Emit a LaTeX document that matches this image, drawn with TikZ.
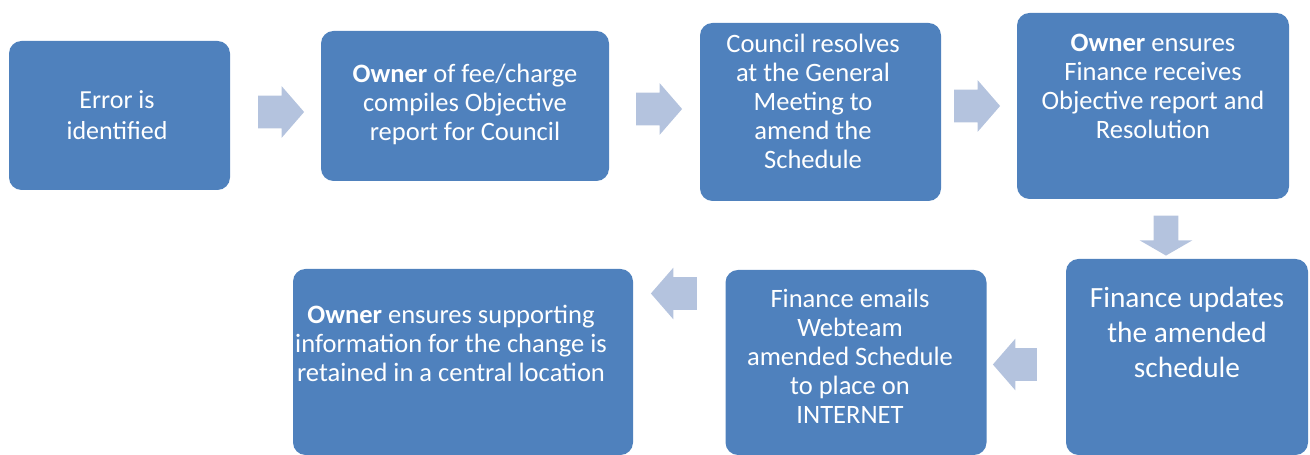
\documentclass[tikz,border=0pt]{standalone}
\usepackage{fontspec}
\setmainfont{Carlito}
\usetikzlibrary{shapes.arrows}
\definecolor{boxblue}{RGB}{79,129,189}
\definecolor{arrowblue}{RGB}{180,195,222}

\begin{document}
\begin{tikzpicture}[
	box/.style={fill=boxblue,rounded corners=0.25cm,inner sep=0pt},
	boxtext/.style={text=white,align=center,inner sep=0pt,font=\fontsize{15.1}{16.5}\selectfont},
	blockarrow/.style={single arrow,fill=arrowblue,inner xsep=0pt,inner ysep=0.32cm,single arrow head extend=0.19cm,single arrow tip angle=98,minimum height=0.92cm}
]
	\useasboundingbox (0,0) rectangle (26.2,9.1);

	% top row
	\node (error) at (2.39,6.79) [box,minimum width=4.42cm,minimum height=2.98cm] {};
	\node (report) at (9.30,6.98) [box,minimum width=5.76cm,minimum height=3.00cm] {};
	\node (resolve) at (16.41,6.86) [box,minimum width=4.82cm,minimum height=3.56cm] {};
	\node (receive) at (23.06,6.98) [box,minimum width=5.44cm,minimum height=3.72cm] {};

	% bottom row
	\node (update) at (23.74,1.96) [box,minimum width=4.84cm,minimum height=3.92cm] {};
	\node (email) at (17.12,1.85) [box,minimum width=5.22cm,minimum height=3.70cm] {};
	\node (retain) at (9.26,1.86) [box,minimum width=6.80cm,minimum height=3.72cm] {};

	% arrows
	\node[blockarrow] (arrow1) at (5.48,6.86) {};
	\node[blockarrow] (arrow2) at (13.04,6.92) {};
	\node[blockarrow] (arrow3) at (19.40,6.98) {};
	\node[blockarrow,rotate=-90,inner ysep=0.24cm,single arrow head extend=0.28cm,single arrow tip angle=120,minimum height=0.80cm] (arrow4) at (23.32,4.46) {};
	\node[blockarrow,rotate=180,minimum height=0.88cm] (arrow5) at (20.44,1.81) {};
	\node[blockarrow,rotate=180] (arrow6) at (13.62,3.23) {};

	% texts
	\node[boxtext,font=\fontsize{14.8}{17.6}\selectfont] (errorlabel) at (2.34,6.79) {Error is\\identified};
	\node[boxtext] (reportlabel) at (9.30,7.02) {\textbf{Owner} of fee/charge\\compiles Objective\\report for Council};
	\node[boxtext] (resolvelabel) at (16.26,7.08) {Council resolves\\at the General\\Meeting to\\amend the\\Schedule};
	\node[boxtext] (receivelabel) at (23.06,7.38) {\textbf{Owner} ensures\\Finance receives\\Objective report and\\Resolution};
	\node[boxtext,font=\fontsize{16.7}{19.9}\selectfont] (updatelabel) at (23.74,2.46) {Finance updates\\the amended\\schedule};
	\node[boxtext] (emaillabel) at (17.00,1.98) {Finance emails\\Webteam\\amended Schedule\\to place on\\INTERNET};
	\node[boxtext] (retainlabel) at (9.02,2.24) {\textbf{Owner} ensures supporting\\information for the change is\\retained in a central location};
\end{tikzpicture}
\end{document}
